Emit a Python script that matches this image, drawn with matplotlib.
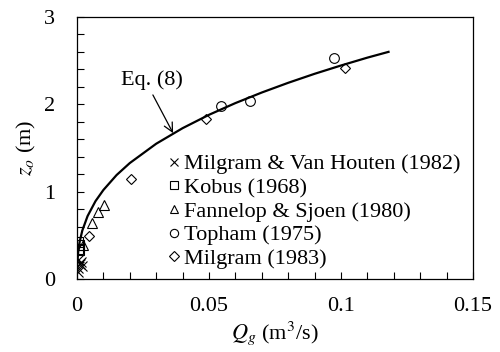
import numpy as np
import matplotlib
matplotlib.use("Agg")
import matplotlib.pyplot as plt
from matplotlib.ticker import MultipleLocator

plt.rcParams['font.family'] = 'Liberation Serif'
plt.rcParams['mathtext.fontset'] = 'stix'

# Eq. (8), points
q_eq = [0.00005, 0.0001, 0.0005, 0.001, 0.002, 0.004, 0.007, 0.01, 0.015, 0.02,
        0.03, 0.04, 0.05, 0.06, 0.07, 0.08, 0.09, 0.10, 0.11, 0.118]
z_eq = [0.137, 0.178, 0.328, 0.426, 0.555, 0.721, 0.892, 1.02, 1.191, 1.328,
        1.549, 1.727, 1.880, 2.014, 2.135, 2.246, 2.349, 2.444, 2.534, 2.60]

# datos experimentales
q_mvh = [0.0002, 0.0005, 0.001, 0.0015, 0.002, 0.0003]
z_mvh = [0.08, 0.13, 0.17, 0.20, 0.15, 0.22]
q_kob = [0.0002, 0.0002, 0.0008, 0.0008]
z_kob = [0.42, 0.35, 0.39, 0.33]
q_fs = [0.0024, 0.0055, 0.0081, 0.0103]
z_fs = [0.39, 0.64, 0.77, 0.85]
q_top = [0.0544, 0.0655, 0.0973]
z_top = [1.98, 2.04, 2.53]
q_mil = [0.0045, 0.0205, 0.0489, 0.1015]
z_mil = [0.49, 1.14, 1.83, 2.42]

fig = plt.figure(figsize=(5, 3.52), dpi=100)
ax = fig.add_axes([0.154, 0.207, 0.792, 0.745])

ax.plot(q_eq, z_eq, color='black', linewidth=1.6, zorder=3)
mk = dict(linestyle='none', color='black', markerfacecolor='none',
          markeredgewidth=0.8, zorder=4)
ax.plot(q_mvh, z_mvh, marker='x', markersize=7, label='Milgram & Van Houten (1982)', **mk)
ax.plot(q_kob, z_kob, marker='s', markersize=7, label='Kobus (1968)', **mk)
ax.plot(q_fs, z_fs, marker='^', markersize=7, label='Fannelop & Sjoen (1980)', **mk)
ax.plot(q_top, z_top, marker='o', markersize=7, label='Topham (1975)', **mk)
ax.plot(q_mil, z_mil, marker='D', markersize=5.5, label='Milgram (1983)', **mk)

ax.annotate('Eq. (8)', xy=(0.0364, 1.67), xytext=(0.0284, 2.28),
            ha='center', va='center', fontsize=16,
            arrowprops=dict(arrowstyle='->', color='black', lw=0.9,
                            relpos=(0.47, 0.0), shrinkA=2, shrinkB=0))

ax.set_xlim(0, 0.15)
ax.set_ylim(0, 3)
ax.set_xticks([0, 0.05, 0.1, 0.15])
ax.set_xticklabels(['0', '0.05', '0.1', '0.15'])
ax.set_yticks([0, 1, 2, 3])
ax.xaxis.set_minor_locator(MultipleLocator(0.01))
ax.yaxis.set_minor_locator(MultipleLocator(0.2))
ax.tick_params(which='both', direction='in', length=5, width=0.8,
               top=False, right=False, labelsize=16)
ax.tick_params(axis='x', which='both', pad=13)
ax.tick_params(axis='y', which='both', pad=16)
for s in ax.spines.values():
    s.set_linewidth(0.9)

ax.set_xlabel(r'$Q_g$ (m$^3$/s)', fontsize=16, labelpad=2)
ax.set_ylabel(r'$z_o$ (m)', fontsize=16, labelpad=4)

ax.legend(loc='upper left', bbox_to_anchor=(0.19, 0.537), frameon=False, fontsize=16,
          handlelength=0.6, handletextpad=0.15, labelspacing=0.14, borderpad=0.2,
          markerscale=0.85)

fig.savefig('out.png', dpi=100)
